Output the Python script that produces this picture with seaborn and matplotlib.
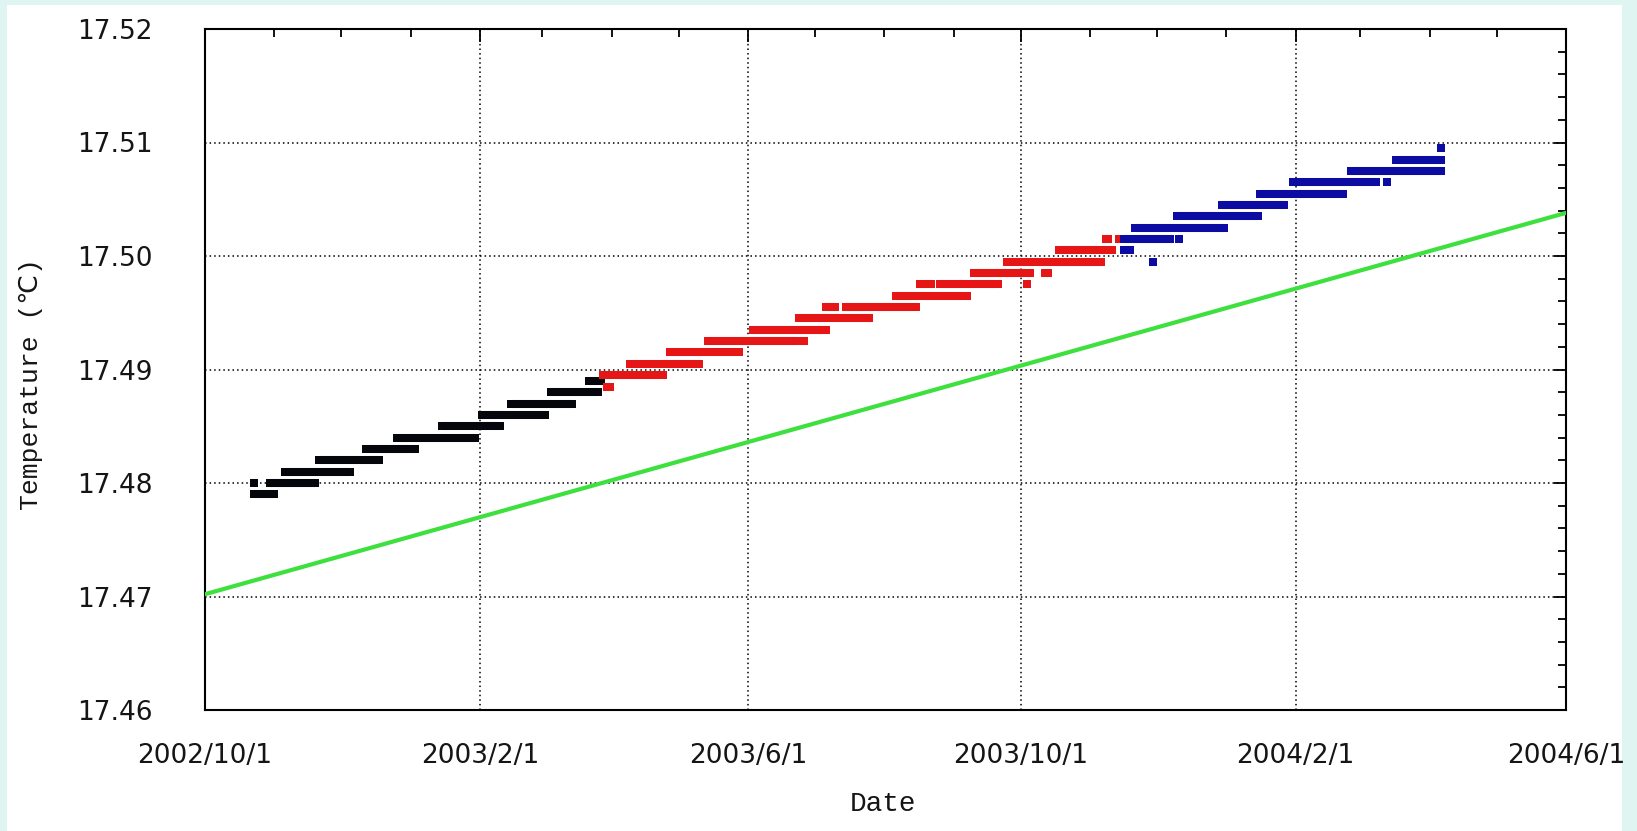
import matplotlib
matplotlib.use("Agg")
import matplotlib.pyplot as plt
import matplotlib.dates as mdates
import matplotlib.ticker as mticker
from matplotlib.patches import Rectangle
from matplotlib import font_manager as fm
import pandas as pd
import seaborn as sns

# ---- readings, stored as runs of identical daily values (start, end, temperature) ----
black_start = ["2002-10-23", "2002-10-23", "2002-10-30", "2002-11-06", "2002-11-21", "2002-12-12",
               "2002-12-26", "2003-01-15", "2003-02-02", "2003-02-15", "2003-03-05", "2003-03-22"]
black_end = ["2002-11-01", "2002-10-23", "2002-11-19", "2002-12-05", "2002-12-18", "2003-01-03",
             "2003-01-30", "2003-02-10", "2003-03-02", "2003-03-14", "2003-03-26", "2003-03-27"]
black_temp = [17.479, 17.480, 17.480, 17.481, 17.482, 17.483,
              17.484, 17.485, 17.486, 17.487, 17.488, 17.489]

red_start = ["2003-03-30", "2003-03-28", "2003-04-09", "2003-04-27", "2003-05-14", "2003-06-25",
             "2003-06-03", "2003-06-24", "2003-07-06", "2003-07-15", "2003-08-06", "2003-08-17",
             "2003-08-26", "2003-10-04", "2003-09-10", "2003-10-12", "2003-09-25", "2003-10-18",
             "2003-11-08", "2003-11-14"]
red_end = ["2003-03-31", "2003-04-24", "2003-05-10", "2003-05-28", "2003-06-22", "2003-06-26",
           "2003-07-06", "2003-07-25", "2003-07-10", "2003-08-15", "2003-09-07", "2003-08-22",
           "2003-09-21", "2003-10-04", "2003-10-05", "2003-10-13", "2003-11-06", "2003-11-11",
           "2003-11-09", "2003-11-14"]
red_temp = [17.4885, 17.4895, 17.4905, 17.4915, 17.4925, 17.4925,
            17.4935, 17.4945, 17.4955, 17.4955, 17.4965, 17.4975,
            17.4975, 17.4975, 17.4985, 17.4985, 17.4995, 17.5005,
            17.5015, 17.5015]

blue_start = ["2003-11-16", "2003-11-16", "2003-12-11", "2003-11-29", "2003-11-21", "2003-12-10",
              "2003-12-30", "2004-01-16", "2004-01-31", "2004-03-13", "2004-02-26", "2004-03-17",
              "2004-04-06"]
blue_end = ["2003-11-19", "2003-12-07", "2003-12-11", "2003-11-29", "2003-12-31", "2004-01-15",
            "2004-01-27", "2004-02-22", "2004-03-08", "2004-03-13", "2004-04-06", "2004-04-06",
            "2004-04-06"]
blue_temp = [17.5005, 17.5015, 17.5015, 17.4995, 17.5025, 17.5035,
             17.5045, 17.5055, 17.5065, 17.5065, 17.5075, 17.5085,
             17.5095]

# ---- reference trend line ----
trend_dates = ["2002-10-01", "2004-06-01"]
trend_temp = [17.4702, 17.5038]

# ---- axis ticks ----
x_limits = ["2002-10-01", "2004-06-01"]
x_tick_dates = ["2002-10-01", "2003-02-01", "2003-06-01", "2003-10-01", "2004-02-01", "2004-06-01"]
x_tick_labels = ["2002/10/1", "2003/2/1", "2003/6/1", "2003/10/1", "2004/2/1", "2004/6/1"]
y_ticks = [17.46, 17.47, 17.48, 17.49, 17.50, 17.51, 17.52]

sns.set_theme(style="white")
available = {f.name for f in fm.fontManager.ttflist}
tick_font = "Liberation Sans Narrow" if "Liberation Sans Narrow" in available else "DejaVu Sans"
label_font = "Liberation Mono" if "Liberation Mono" in available else "DejaVu Sans Mono"
plt.rcParams["font.family"] = [tick_font, "DejaVu Sans"]

W, H = 1637, 831
fig = plt.figure(figsize=(W / 100, H / 100), dpi=100, facecolor="#def5f2")
fig.patches.append(Rectangle((7 / W, 0), (1622 - 7) / W, (H - 5) / H,
                             transform=fig.transFigure, facecolor="white",
                             edgecolor="none", zorder=-10))

left, right, top, bottom = 205, 1566, 29, 710
ax = fig.add_axes([left / W, 1 - bottom / H, (right - left) / W, (bottom - top) / H])
ax.set_facecolor("white")

trend = pd.DataFrame({"date": pd.to_datetime(trend_dates), "temp": trend_temp})
sns.lineplot(data=trend, x="date", y="temp", color="#3ee03e", linewidth=3.0, ax=ax, zorder=3)

MARK = 5.8  # square reading marker edge, points
for starts, ends, temps, color in [
    (black_start, black_end, black_temp, "#05050c"),
    (red_start, red_end, red_temp, "#e61616"),
    (blue_start, blue_end, blue_temp, "#0c0ca2"),
]:
    s_dates, e_dates = pd.to_datetime(starts), pd.to_datetime(ends)
    lc = ax.hlines(temps, s_dates, e_dates, colors=color, linewidth=MARK, zorder=4)
    lc.set_capstyle("butt")
    ends_df = pd.DataFrame({"date": list(s_dates) + list(e_dates), "temp": temps + temps})
    sns.scatterplot(data=ends_df, x="date", y="temp", marker="s", s=(MARK * 0.97) ** 2,
                    color=color, linewidth=0, ax=ax, zorder=4)

ax.set_xlim(pd.to_datetime(x_limits[0]), pd.to_datetime(x_limits[1]))
ax.set_ylim(y_ticks[0], y_ticks[-1])

ax.set_xticks(pd.to_datetime(x_tick_dates))
ax.set_xticklabels(x_tick_labels)
ax.xaxis.set_minor_locator(mdates.MonthLocator())
ax.set_yticks(y_ticks)
ax.yaxis.set_major_formatter(mticker.FormatStrFormatter("%.2f"))
ax.yaxis.set_minor_locator(mticker.MultipleLocator(0.002))

ax.tick_params(which="both", direction="in", top=True, right=True, color="black", width=1.3)
ax.tick_params(which="major", length=9)
ax.tick_params(which="minor", length=6)
ax.tick_params(axis="x", which="major", pad=24, labelsize=19, labelcolor="#151515")
ax.tick_params(axis="y", which="major", pad=38, labelsize=19, labelcolor="#151515")

ax.grid(True, which="major", color="black", linestyle=(0, (1, 2)), linewidth=1.1, zorder=1)
for sp in ax.spines.values():
    sp.set_visible(True)
    sp.set_color("black")
    sp.set_linewidth(1.5)

ax.set_xlabel("Date", fontsize=20, family=[label_font, "DejaVu Sans"], color="#151515", va="center")
ax.xaxis.set_label_coords((883 - left) / (right - left), -(804 - bottom) / (bottom - top))
ax.set_ylabel("Temperature (℃)", fontsize=19, family=[label_font, "DejaVu Sans"], color="#151515",
              va="center")
ax.yaxis.set_label_coords(-(left - 31) / (right - left), (bottom - 384) / (bottom - top))

fig.savefig("out.png", dpi=100, facecolor=fig.get_facecolor())
